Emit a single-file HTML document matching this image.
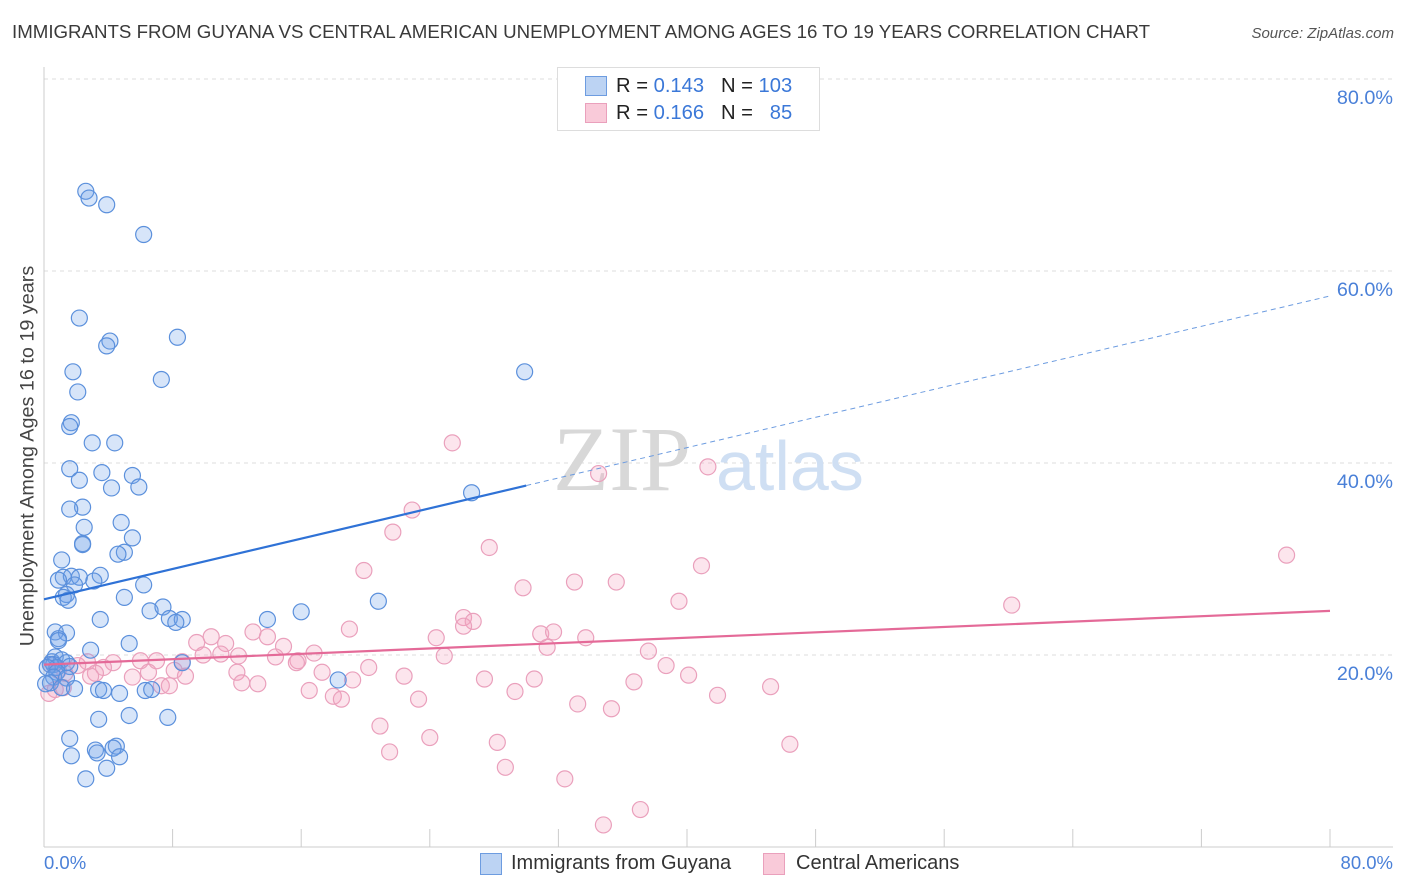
<!DOCTYPE html>
<html><head><meta charset="utf-8"><style>
body{margin:0;background:#fff;font-family:"Liberation Sans",sans-serif;}
#wrap{position:relative;width:1406px;height:892px;overflow:hidden;}
.t{position:absolute;white-space:nowrap;}
</style></head><body>
<div id="wrap">
<div class="t" style="left:12px;top:21px;font-size:18.7px;color:#3a3a3a;">IMMIGRANTS FROM GUYANA VS CENTRAL AMERICAN UNEMPLOYMENT AMONG AGES 16 TO 19 YEARS CORRELATION CHART</div>
<div class="t" style="right:12px;top:25px;font-size:15px;color:#555;font-style:italic;">Source: ZipAtlas.com</div>
<svg id="svg" width="1406" height="892" style="position:absolute;left:0;top:0"></svg>
</div>
<script>
const blueX=[2.6,2.8,3.9,6.2,2.2,4.1,3.9,8.3,1.8,7.3,29.9,2.1,1.7,1.6,3.0,4.4,1.6,3.6,5.5,2.2,4.2,5.9,26.6,2.4,1.6,4.8,2.5,2.4,2.4,5.5,5.0,4.6,1.1,1.2,1.7,2.2,3.5,0.9,1.9,3.1,6.2,1.4,1.2,1.5,5.0,20.8,6.6,7.4,16.0,7.8,8.6,8.2,3.5,13.9,0.7,1.4,0.9,0.9,5.3,2.9,0.5,0.7,1.1,1.4,0.6,0.4,0.8,0.2,1.6,0.8,0.6,1.4,0.4,1.1,1.9,0.1,8.6,18.3,3.4,3.7,4.7,6.3,6.7,3.4,5.3,7.7,1.6,1.7,3.2,3.3,4.5,4.3,4.7,3.9,2.6];
const blueY=[68.3,67.6,66.9,63.8,55.1,52.7,52.2,53.1,49.5,48.7,49.5,47.4,44.2,43.8,42.1,42.1,39.4,39.0,38.7,38.2,37.4,37.5,36.9,35.4,35.2,33.8,33.3,31.6,31.5,32.2,30.7,30.5,29.9,28.1,28.2,28.1,28.3,27.8,27.3,27.7,27.3,26.3,26.0,25.7,26.0,25.6,24.6,25.0,24.5,23.8,23.7,23.4,23.7,23.7,22.4,22.3,21.7,21.5,21.2,20.5,19.3,19.8,19.5,19.2,19.0,19.0,18.7,18.7,18.8,18.2,17.7,17.6,17.1,16.6,16.5,17.0,19.2,17.4,16.4,16.3,16.0,16.3,16.4,13.3,13.7,13.5,11.3,9.5,10.1,9.8,10.5,10.3,9.4,8.2,7.1];
const pinkX=[25.4,34.5,41.3,22.9,21.7,27.7,19.9,40.9,33.0,35.6,29.8,77.3,39.5,60.2,26.1,26.7,26.1,19.0,13.0,10.4,13.9,11.3,24.4,30.9,31.7,33.7,14.9,31.3,9.5,16.8,11.0,9.9,12.1,24.9,37.6,14.4,15.8,7.0,15.7,8.6,6.0,4.3,2.7,3.7,0.4,2.1,0.9,1.3,3.2,2.9,12.0,8.1,17.3,22.4,8.8,20.2,5.5,6.5,38.7,40.1,27.4,30.5,36.7,7.3,7.8,12.3,13.3,19.2,1.2,0.7,0.3,16.5,18.0,18.5,23.3,29.3,41.9,45.2,33.2,35.3,20.9,24.0,28.2,21.5,46.4,28.7,32.4,37.1,34.8];
const pinkY=[42.1,38.9,39.6,35.1,32.8,31.2,28.8,29.3,27.6,27.6,27.0,30.4,25.6,25.2,23.9,23.5,23.0,22.7,22.4,21.9,21.9,21.2,21.8,22.2,22.4,21.8,20.9,20.8,21.3,20.2,20.1,20.0,19.9,19.9,20.4,19.8,19.4,19.4,19.2,19.3,19.4,19.2,19.3,18.7,19.0,18.9,18.4,18.1,18.1,17.8,18.2,18.4,18.2,17.8,17.8,18.7,17.7,18.2,18.9,17.9,17.5,17.5,17.2,16.8,16.8,17.1,17.0,17.4,16.6,16.4,16.0,16.3,15.7,15.4,15.4,16.2,15.8,16.7,14.9,14.4,12.6,11.4,10.9,9.9,10.7,8.3,7.1,3.9,2.3];
const blueLine=[25.8,57.4], blueSolidEnd=30;
const pinkLine=[19.0,24.6];
const yTicks=[20,40,60,80];
const xTickCount=10;

const NS="http://www.w3.org/2000/svg";
const svg=document.getElementById('svg');
const X0=44,X1=1330,Y0=847,Y1=79;
const sx=v=>X0+(v/80)*(X1-X0);
const sy=v=>Y0-(v/80)*(Y0-Y1);
function mk(tag,attrs,parent){const e=document.createElementNS(NS,tag);for(const k in attrs)e.setAttribute(k,attrs[k]);(parent||svg).appendChild(e);return e;}

yTicks.forEach(v=>{
  const g=mk('line',{x1:X0,x2:1393,y1:sy(v),y2:sy(v),stroke:'#ddd','stroke-dasharray':'4,4','stroke-width':1});
  
  
  const t=mk('text',{x:1393,y:sy(v)+25,'text-anchor':'end','font-size':19.8,fill:'#4a80d8','font-family':'Liberation Sans, sans-serif'});
  t.textContent=v.toFixed(1)+'%';
  
  
});
const ax=mk('line',{x1:X0,x2:1393,y1:Y0,y2:Y0,stroke:'#ccc','stroke-width':1});


const ay=mk('line',{x1:X0,x2:X0,y1:67,y2:Y0,stroke:'#ccc','stroke-width':1});


for(let i=0;i<=xTickCount;i++){
  const v=i*80/xTickCount;
  const tk=mk('line',{x1:sx(v),x2:sx(v),y1:Y0-18,y2:Y0,stroke:'#ccc','stroke-width':1});
  
  
}
const wm=mk('text',{x:553,y:490,'font-size':92,fill:'#d8d8d8','font-family':'Liberation Serif, serif'});
wm.textContent='ZIP';


const wm2=mk('text',{x:716,y:490,'font-size':70,fill:'#cfdff3','font-family':'Liberation Sans, sans-serif'});
wm2.textContent='atlas';



function dots(xs,ys,fill,stroke,name){
  xs.forEach((x,i)=>{
    const c=mk('circle',{cx:sx(x),cy:sy(ys[i]),r:8,fill:fill,stroke:stroke,'stroke-width':1.2});
    
    
  });
}
dots(pinkX,pinkY,'rgba(244,160,190,0.28)','#eaa0bc','central-american-point');
dots(blueX,blueY,'rgba(110,160,232,0.28)','#5b90dc','guyana-point');

const byAt=x=>blueLine[0]+(blueLine[1]-blueLine[0])*x/80;
const bl=mk('line',{x1:sx(0),y1:sy(byAt(0)),x2:sx(blueSolidEnd),y2:sy(byAt(blueSolidEnd)),stroke:'#2f72d6','stroke-width':2.2});


const bd=mk('line',{x1:sx(blueSolidEnd),y1:sy(byAt(blueSolidEnd)),x2:sx(80),y2:sy(byAt(80)),stroke:'#6d9ce0','stroke-width':1,'stroke-dasharray':'5,4'});


const pl=mk('line',{x1:sx(0),y1:sy(pinkLine[0]),x2:sx(80),y2:sy(pinkLine[1]),stroke:'#e46a98','stroke-width':2.2});


</script>
<div class="t" style="left:18px;top:456px;transform:translate(-50%,-50%) rotate(-90deg);transform-origin:center;font-size:19.8px;color:#444;margin-left:10px;">Unemployment Among Ages 16 to 19 years</div>
<div class="t" style="left:44px;top:852px;font-size:18.5px;color:#4a80d8;">0.0%</div>
<div class="t" style="right:13px;top:852px;font-size:18.5px;color:#4a80d8;">80.0%</div>
<div class="t" style="left:557px;top:67px;width:261px;height:62px;border:1px solid #ddd;background:#fff;">
  <div style="position:absolute;left:27px;top:8px;width:20px;height:18px;background:#bcd3f3;border:1px solid #6d9ce0;"></div>
  <div style="position:absolute;left:58px;top:7px;font-size:20.2px;color:#222;">R = <span style="color:#3b78d8">0.143</span>&nbsp;&nbsp;&nbsp;N = <span style="color:#3b78d8">103</span></div>
  <div style="position:absolute;left:27px;top:35px;width:20px;height:18px;background:#f9cad9;border:1px solid #eaa0bc;"></div>
  <div style="position:absolute;left:58px;top:34px;font-size:20.2px;color:#222;">R = <span style="color:#3b78d8">0.166</span>&nbsp;&nbsp;&nbsp;N = &nbsp;&nbsp;<span style="color:#3b78d8">85</span></div>
</div>
<div class="t" style="left:480px;top:853px;width:20px;height:20px;background:#bcd3f3;border:1px solid #6d9ce0;"></div>
<div class="t" style="left:511px;top:852px;font-size:20px;color:#333;">Immigrants from Guyana</div>
<div class="t" style="left:763px;top:853px;width:20px;height:20px;background:#f9cad9;border:1px solid #eaa0bc;"></div>
<div class="t" style="left:796px;top:852px;font-size:20px;color:#333;">Central Americans</div>
</body></html>
